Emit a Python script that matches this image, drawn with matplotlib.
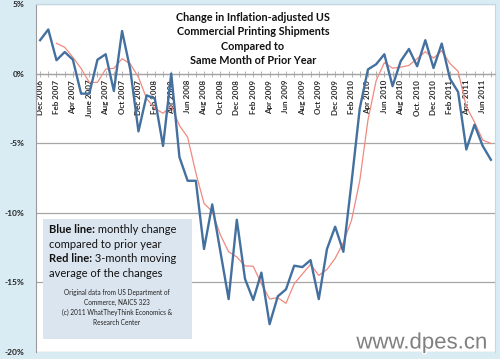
import matplotlib
matplotlib.use("Agg")
import matplotlib.pyplot as plt
import matplotlib.patheffects as pe
from matplotlib.patches import Rectangle
from matplotlib.text import Annotation

plt.rcParams['font.family'] = ['Lato', 'DejaVu Sans']

# Monthly data Dec 2006 .. Jul 2011 (56 months), percent change vs prior year
blue_values = [
    2.40,
    3.17, 0.96, 1.55, 1.00, -1.44, -1.44, 1.00, 1.39, -1.25, 3.06, 0.30, -4.15,
    -1.56, -1.80, -5.20, 0.00, -6.00, -7.70, -7.70, -12.60, -9.40, -12.80, -16.20, -10.50,
    -14.75, -16.26, -14.30, -18.00, -16.00, -15.50, -13.80, -13.90, -13.40, -16.20, -12.60, -11.00,
    -12.80, -7.80, -2.50, 0.30, 0.67, 1.39, -0.90, 0.90, 1.77, 0.53, 2.40, 0.40,
    2.16, -0.36, -1.32, -5.45, -3.67, -5.20, -6.19,
]
# 3-month moving average (starts Feb 2007)
red_values = [
    2.18, 1.89, 1.17, 0.37, -0.63, -0.63, 0.32, 0.38, 1.07, 0.70, -0.26,
    -1.80, -2.50, -2.85, -2.33, -3.73, -4.57, -7.13, -9.33, -9.90, -11.60, -12.80, -13.17,
    -13.82, -13.84, -15.10, -16.19, -16.10, -16.50, -15.10, -14.40, -13.70, -14.50, -14.07, -13.27,
    -12.13, -10.53, -7.70, -3.33, -0.51, 0.79, 0.39, 0.46, 0.59, 1.07, 1.57, 1.11,
    1.65, 0.73, 0.16, -2.38, -3.48, -4.77, -5.02,
]
red_start = 2

tick_labels = ["Dec 2006", "Feb 2007", "Apr 2007", "June 2007", "Aug 2007", "Oct 2007",
               "Dec 2007", "Feb 2008", "Apr 2008", "Jun 2008", "Aug 2008", "Oct 2008",
               "Dec 2008", "Feb 2009", "Apr 2009", "Jun 2009", "Aug 2009", "Oct 2009",
               "Dec 2009", "Feb 2010", "Apr 2010", "Jun 2010", "Aug 2010", "Oct. 2010",
               "Dec 2010", "Feb 2011", "Apr. 2011", "Jun 2011"]
y_ticks = [5, 0, -5, -10, -15, -20]
y_tick_labels = ["5%", "0%", "-5%", "-10%", "-15%", "-20%"]

title = "Change in Inflation-adjusted US\nCommercial Printing Shipments\nCompared to\nSame Month of Prior Year"

W, H = 500, 359
fig = plt.figure(figsize=(W / 100, H / 100), dpi=100)
bg = '#d9ebf3'
fig.patch.set_facecolor(bg)

L, R, T, B = 36, 495, 4, 352
ax = fig.add_axes([L / W, 1 - B / H, (R - L) / W, (B - T) / H])
ax.set_facecolor('white')

x_blue = list(range(len(blue_values)))
x_red = list(range(red_start, red_start + len(red_values)))

ax.set_xlim(-0.5, len(blue_values) - 0.5)
ax.set_ylim(-20, 5)

for v in y_ticks:
    ax.axhline(v, color='#a6a6a6', lw=0.9, zorder=1)

ax.plot(x_red, red_values, color='#ef8a80', lw=0.9, zorder=3)
ax.plot(x_blue, blue_values, color='#44709f', lw=1.7, zorder=4)

# spines
for s in ['top', 'right']:
    ax.spines[s].set_color('#c3d8e4')
    ax.spines[s].set_linewidth(0.8)
ax.spines['left'].set_color('#9a9a9a')
ax.spines['left'].set_linewidth(0.8)
ax.spines['bottom'].set_position(('data', 0))
ax.spines['bottom'].set_color('#a6a6a6')
ax.spines['bottom'].set_linewidth(0.9)

ax.set_yticks(y_ticks)
ax.set_yticklabels(y_tick_labels, fontsize=6, fontweight='bold', color='#222222')
ax.tick_params(axis='y', length=0, pad=8)

ax.set_xticks(list(range(0, len(blue_values), 2)))
ax.set_xticklabels(tick_labels, rotation=90, fontsize=5.8, fontweight='bold', color='#2a2a2a',
                   ha='center', va='top')
ax.set_xticks(list(range(len(blue_values))), minor=True)
ax.tick_params(axis='x', which='both', direction='inout', length=4, width=0.6,
               color='#a6a6a6', pad=2.5)

def P(x, y):
    return (x / W, 1 - y / H)

fig.text(*P(253, 39), title, ha='center', va='center', fontsize=7.8, fontweight='bold',
         linespacing=1.35, color='#111111', zorder=10)

# explanation box
bx0, by0, bx1, by1 = 43, 219, 192, 339
fig.patches.append(Rectangle(P(bx0, by1), (bx1 - bx0) / W, (by1 - by0) / H,
                             transform=fig.transFigure, facecolor='#dbe5ef',
                             edgecolor='none', zorder=5))

lines = [("Blue line:", " monthly change"), ("", "compared to prior year"),
         ("Red line:", " 3-month moving"), ("", "average of the changes")]
ys = [233, 247.8, 262.5, 277]
fs = 8.0
for (b, n), yy in zip(lines, ys):
    if b:
        t = fig.text(*P(49, yy), b, fontsize=fs, fontweight='bold', va='baseline',
                     ha='left', color='#111111', zorder=6)
        ann = Annotation(n, xy=(1, 0), xycoords=t, va='bottom', ha='left',
                         fontsize=fs, color='#111111', zorder=6)
        fig.add_artist(ann)
    else:
        fig.text(*P(49, yy), n, fontsize=fs, va='baseline', ha='left',
                 color='#111111', zorder=6)

small = ("Original data from US Department of\nCommerce, NAICS 323\n"
         "(c) 2011 WhatTheyThink Economics &\nResearch Center")
fig.text(*P(117, 307.5), small, ha='center', va='center', fontsize=4.7,
         linespacing=1.45, color='#222222', zorder=6)

fig.text(*P(422, 343), "www.dpes.cn", ha='center', va='center', fontsize=16,
         family='Liberation Sans', color='#808080', zorder=10,
         path_effects=[pe.withStroke(linewidth=2, foreground='white')])

fig.savefig('out.png', dpi=100, facecolor=bg)
